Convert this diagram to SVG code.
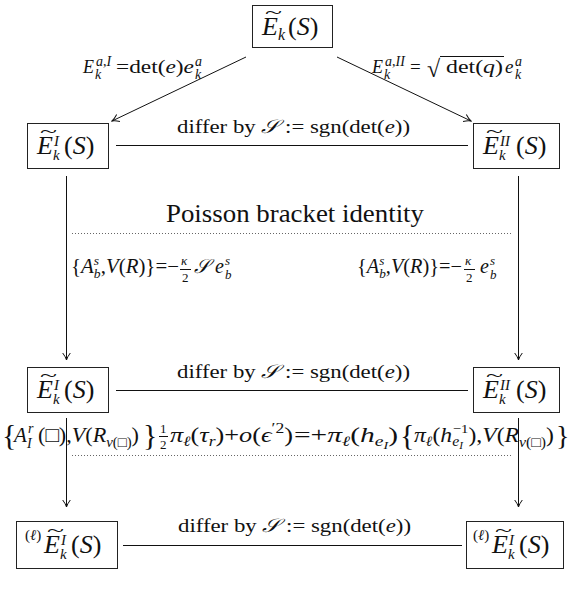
<svg xmlns="http://www.w3.org/2000/svg" width="571" height="598" viewBox="0 0 571 598">
<style>
.m{font-family:"Liberation Serif","Noto Serif","DejaVu Serif",FreeSerif,"Nimbus Roman","Nimbus Roman No9 L","Times New Roman",Times,Tinos,Georgia,"STIX Two Text","Latin Modern Roman",serif;fill:#111}
.i{font-style:italic}
.box{fill:none;stroke:#222;stroke-width:1}
.ln{stroke:#111;stroke-width:1;fill:none}
.dot{stroke:#666;stroke-width:1;stroke-dasharray:1 2;fill:none}
</style>
<defs>
<marker id="ar" viewBox="-9 -5 10 10" refX="0" refY="0" markerWidth="10" markerHeight="10" orient="auto" markerUnits="userSpaceOnUse">
<path d="M-7,-3.8 Q-3,-0.8 0,0 Q-3,0.8 -7,3.8" fill="none" stroke="#111" stroke-width="1"/>
</marker>
</defs>
<rect width="571" height="598" fill="#fff"/>

<g id="connectors">
<line class="ln" x1="246" y1="57" x2="112" y2="121" marker-end="url(#ar)"/>
<line class="ln" x1="337" y1="57" x2="471" y2="121" marker-end="url(#ar)"/>
<line class="ln" x1="116" y1="145.5" x2="468" y2="145.5"/>
<line class="ln" x1="66.5" y1="176" x2="66.5" y2="360" marker-end="url(#ar)"/>
<line class="ln" x1="518.5" y1="176" x2="518.5" y2="360" marker-end="url(#ar)"/>
<line class="ln" x1="116" y1="390.5" x2="468" y2="390.5"/>
<line class="ln" x1="66.5" y1="418" x2="66.5" y2="507" marker-end="url(#ar)"/>
<line class="ln" x1="518.5" y1="418" x2="518.5" y2="507" marker-end="url(#ar)"/>
<line class="ln" x1="123" y1="545.5" x2="462" y2="545.5"/>
<line class="dot" x1="72" y1="233.5" x2="513" y2="233.5"/>
<line class="dot" x1="72" y1="455.5" x2="513" y2="455.5"/>
</g>

<g id="n0">
<rect class="box" x="252.5" y="5.5" width="80" height="42"/>
<text class="m" font-size="26"><tspan x="265" y="18" font-size="16" textLength="17" lengthAdjust="spacingAndGlyphs">~</tspan><tspan x="262" y="35" class="i">E</tspan><tspan x="278" y="40" font-size="16" class="i">k</tspan><tspan x="288" y="35">(</tspan><tspan class="i">S</tspan><tspan>)</tspan></text>
</g>

<g id="n1">
<rect class="box" x="27.5" y="123.5" width="81" height="45"/>
<text class="m" font-size="26"><tspan x="40" y="137" font-size="16" textLength="17" lengthAdjust="spacingAndGlyphs">~</tspan><tspan x="37" y="154" class="i">E</tspan><tspan x="54" y="146" font-size="15" class="i">I</tspan><tspan x="53" y="160" font-size="15" class="i">k</tspan><tspan x="64" y="154">(</tspan><tspan class="i">S</tspan><tspan>)</tspan></text>
</g>

<g id="n2">
<rect class="box" x="473.5" y="123.5" width="86" height="45"/>
<text class="m" font-size="26"><tspan x="486" y="137" font-size="16" textLength="17" lengthAdjust="spacingAndGlyphs">~</tspan><tspan x="483" y="154" class="i">E</tspan><tspan x="500" y="146" font-size="15" class="i">II</tspan><tspan x="499" y="160" font-size="15" class="i">k</tspan><tspan x="516" y="154">(</tspan><tspan class="i">S</tspan><tspan>)</tspan></text>
</g>

<g id="n3">
<rect class="box" x="27.5" y="367.5" width="81" height="45"/>
<text class="m" font-size="26"><tspan x="40" y="381" font-size="16" textLength="17" lengthAdjust="spacingAndGlyphs">~</tspan><tspan x="37" y="398" class="i">E</tspan><tspan x="54" y="390" font-size="15" class="i">I</tspan><tspan x="53" y="404" font-size="15" class="i">k</tspan><tspan x="64" y="398">(</tspan><tspan class="i">S</tspan><tspan>)</tspan></text>
</g>

<g id="n4">
<rect class="box" x="473.5" y="367.5" width="86" height="45"/>
<text class="m" font-size="26"><tspan x="486" y="381" font-size="16" textLength="17" lengthAdjust="spacingAndGlyphs">~</tspan><tspan x="483" y="398" class="i">E</tspan><tspan x="500" y="390" font-size="15" class="i">II</tspan><tspan x="499" y="404" font-size="15" class="i">k</tspan><tspan x="516" y="398">(</tspan><tspan class="i">S</tspan><tspan>)</tspan></text>
</g>

<g id="n5">
<rect class="box" x="16.5" y="521.5" width="101" height="47"/>
<text class="m" font-size="26"><tspan x="25" y="540" font-size="15">(<tspan class="i">ℓ</tspan>)</tspan><tspan x="47" y="536" font-size="16" textLength="17" lengthAdjust="spacingAndGlyphs">~</tspan><tspan x="44" y="553" class="i">E</tspan><tspan x="61" y="545" font-size="15" class="i">I</tspan><tspan x="60" y="559" font-size="15" class="i">k</tspan><tspan x="71" y="553">(</tspan><tspan class="i">S</tspan><tspan>)</tspan></text>
</g>

<g id="n6">
<rect class="box" x="466.5" y="521.5" width="97" height="47"/>
<text class="m" font-size="26"><tspan x="473" y="540" font-size="15">(<tspan class="i">ℓ</tspan>)</tspan><tspan x="495" y="536" font-size="16" textLength="17" lengthAdjust="spacingAndGlyphs">~</tspan><tspan x="492" y="553" class="i">E</tspan><tspan x="509" y="545" font-size="15" class="i">I</tspan><tspan x="508" y="559" font-size="15" class="i">k</tspan><tspan x="519" y="553">(</tspan><tspan class="i">S</tspan><tspan>)</tspan></text>
</g>

<g id="labels">
<text class="m" font-size="18" y="73"><tspan x="83" class="i">E</tspan><tspan x="96" y="66" font-size="14"><tspan class="i">a</tspan>,<tspan class="i">I</tspan></tspan><tspan x="95" y="79" font-size="14" class="i">k</tspan></text>
<text class="m" x="116" y="73" font-size="19" textLength="78" lengthAdjust="spacingAndGlyphs">=det(<tspan class="i">e</tspan>)<tspan class="i">e</tspan></text>
<text class="m" font-size="14"><tspan x="195" y="66" class="i">a</tspan><tspan x="195" y="79" class="i">k</tspan></text>

<text class="m" font-size="18" y="73"><tspan x="372" class="i">E</tspan><tspan x="385" y="66" font-size="14"><tspan class="i">a</tspan>,<tspan class="i">II</tspan></tspan><tspan x="384" y="79" font-size="14" class="i">k</tspan></text>
<text class="m" x="410" y="73" font-size="19">=</text>
<text class="m" x="427" y="77" font-size="24">√</text>
<line class="ln" x1="440" y1="56.5" x2="504" y2="56.5"/>
<text class="m" x="446" y="73" font-size="19" textLength="57" lengthAdjust="spacingAndGlyphs">det(<tspan class="i">q</tspan>)</text>
<text class="m i" x="505" y="73" font-size="19">e</text>
<text class="m" font-size="14"><tspan x="515" y="66" class="i">a</tspan><tspan x="515" y="79" class="i">k</tspan></text>

<text class="m" x="177" y="133" font-size="19" textLength="233" lengthAdjust="spacingAndGlyphs">differ by <tspan class="i">𝒮</tspan> := sgn(det(<tspan class="i">e</tspan>))</text>
<text class="m" x="177" y="378" font-size="19" textLength="233" lengthAdjust="spacingAndGlyphs">differ by <tspan class="i">𝒮</tspan> := sgn(det(<tspan class="i">e</tspan>))</text>
<text class="m" x="178" y="532" font-size="19" textLength="233" lengthAdjust="spacingAndGlyphs">differ by <tspan class="i">𝒮</tspan> := sgn(det(<tspan class="i">e</tspan>))</text>

<text class="m" x="166" y="222" font-size="25" textLength="258" lengthAdjust="spacingAndGlyphs">Poisson bracket identity</text>

<text class="m" font-size="20" x="71" y="273" textLength="108" lengthAdjust="spacingAndGlyphs">{<tspan class="i">A</tspan><tspan font-size="13" class="i" dy="-8">s</tspan><tspan font-size="13" class="i" dx="-5" dy="13">b</tspan><tspan dy="-5">,</tspan><tspan class="i">V</tspan>(<tspan class="i">R</tspan>)}=−</text>
<text class="m" font-size="13"><tspan x="181" y="265" class="i">κ</tspan><tspan x="182" y="282">2</tspan></text>
<line class="ln" x1="180" y1="269.5" x2="191" y2="269.5"/>
<text class="m" font-size="20" y="273"><tspan x="194" class="i">𝒮</tspan><tspan x="215" class="i">e</tspan><tspan x="225" y="265" font-size="13" class="i">s</tspan><tspan x="225" y="279" font-size="13" class="i">b</tspan></text>

<text class="m" font-size="20" x="357" y="273" textLength="105" lengthAdjust="spacingAndGlyphs">{<tspan class="i">A</tspan><tspan font-size="13" class="i" dy="-8">s</tspan><tspan font-size="13" class="i" dx="-5" dy="13">b</tspan><tspan dy="-5">,</tspan><tspan class="i">V</tspan>(<tspan class="i">R</tspan>)}=−</text>
<text class="m" font-size="13"><tspan x="465" y="265" class="i">κ</tspan><tspan x="466" y="282">2</tspan></text>
<line class="ln" x1="464" y1="269.5" x2="475" y2="269.5"/>
<text class="m" font-size="20" y="273"><tspan x="480" class="i">e</tspan><tspan x="490" y="265" font-size="13" class="i">s</tspan><tspan x="490" y="279" font-size="13" class="i">b</tspan></text>

<text class="m" font-size="21"><tspan x="2" y="445" font-size="30">{</tspan><tspan x="14" y="442" class="i">A</tspan><tspan x="28" y="433" font-size="14" class="i">r</tspan><tspan x="27" y="448" font-size="14" class="i">I</tspan></text>
<text class="m" font-size="21" x="38" y="442" textLength="101" lengthAdjust="spacingAndGlyphs">(□),<tspan class="i">V</tspan>(<tspan class="i">R</tspan><tspan font-size="14" dy="5"><tspan class="i">v</tspan>(□)</tspan><tspan dy="-5">)</tspan></text>
<text class="m" font-size="13"><tspan x="143" y="445" font-size="30">}</tspan><tspan x="160" y="433">1</tspan><tspan x="160" y="449">2</tspan></text>
<line class="ln" x1="159" y1="436.5" x2="168" y2="436.5"/>
<text class="m" font-size="21" x="170" y="442" textLength="123" lengthAdjust="spacingAndGlyphs"><tspan class="i">π</tspan><tspan font-size="14" class="i" dy="4">ℓ</tspan><tspan dy="-4">(</tspan><tspan class="i">τ</tspan><tspan font-size="14" class="i" dy="4">r</tspan><tspan dy="-4">)+</tspan><tspan class="i">o</tspan>(<tspan class="i">ϵ</tspan><tspan font-size="14" dy="-9">′2</tspan><tspan dy="9">)</tspan></text>
<text class="m" font-size="21" x="294" y="442" textLength="104" lengthAdjust="spacingAndGlyphs">=+<tspan class="i">π</tspan><tspan font-size="14" class="i" dy="4">ℓ</tspan><tspan dy="-4">(</tspan><tspan class="i">h</tspan><tspan font-size="14" class="i" dy="4">e</tspan><tspan font-size="10" class="i" dy="3">I</tspan><tspan dy="-7">)</tspan></text>
<text class="m" x="400" y="445" font-size="30">{</text>
<text class="m" font-size="21" x="414" y="442" textLength="140" lengthAdjust="spacingAndGlyphs"><tspan class="i">π</tspan><tspan font-size="14" class="i" dy="4">ℓ</tspan><tspan dy="-4">(</tspan><tspan class="i">h</tspan><tspan font-size="14" class="i" dy="4">e</tspan><tspan font-size="10" class="i" dy="3">I</tspan><tspan font-size="13" dx="-9" dy="-16">−1</tspan><tspan dy="9">),</tspan><tspan class="i">V</tspan>(<tspan class="i">R</tspan><tspan font-size="14" dy="5"><tspan class="i">v</tspan>(□)</tspan><tspan dy="-5">)</tspan></text>
<text class="m" x="556" y="445" font-size="28">}</text>
</g>
</svg>
